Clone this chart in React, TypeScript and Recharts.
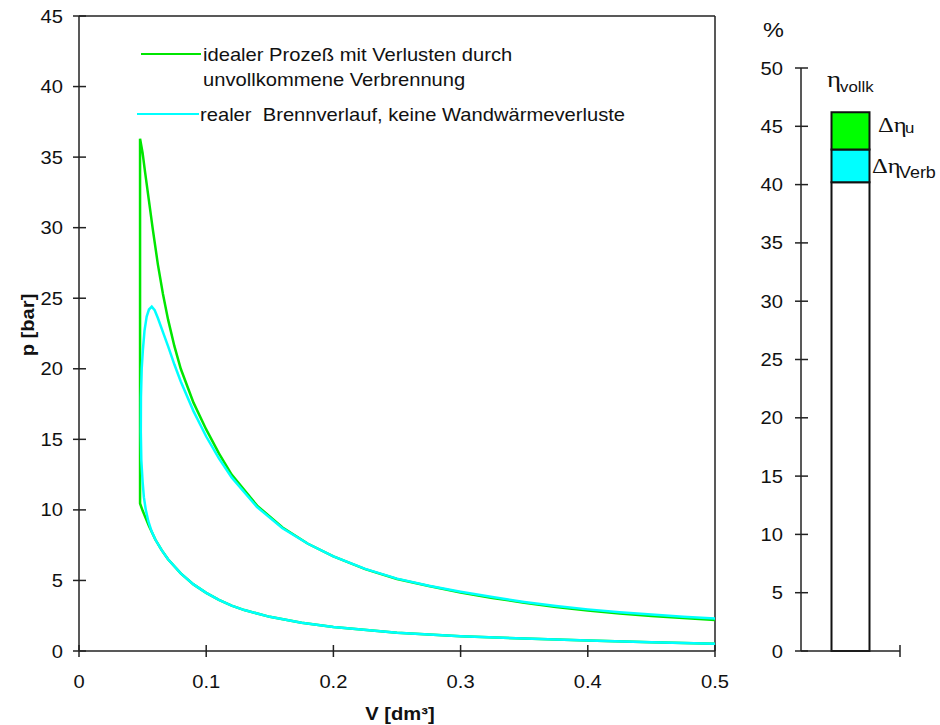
import React from "react";
import { LineChart, Line, XAxis, YAxis, ReferenceLine, BarChart, Bar } from "recharts";

// shared compression line, from V = 0.5 down to TDC
const compV = [0.5, 0.45, 0.4, 0.35, 0.3, 0.25, 0.2, 0.175, 0.15, 0.13, 0.12, 0.11, 0.1, 0.09, 0.08, 0.07, 0.065, 0.06, 0.055, 0.05, 0.048];
const compP = [0.52, 0.62, 0.75, 0.88, 1.05, 1.3, 1.7, 2.0, 2.42, 2.9, 3.22, 3.62, 4.12, 4.72, 5.5, 6.5, 7.15, 7.9, 8.85, 9.95, 10.45];

// ideal process: isochoric jump then expansion
const idealV = [0.048, 0.05, 0.052, 0.055, 0.058, 0.062, 0.066, 0.07, 0.075, 0.08, 0.09, 0.1, 0.11, 0.12, 0.14, 0.16, 0.18, 0.2, 0.225, 0.25, 0.275, 0.3, 0.325, 0.35, 0.375, 0.4, 0.425, 0.45, 0.475, 0.5];
const idealP = [36.3, 35.3, 33.9, 31.9, 29.9, 27.4, 25.3, 23.5, 21.6, 20.0, 17.6, 15.7, 14.0, 12.5, 10.3, 8.75, 7.6, 6.7, 5.8, 5.1, 4.6, 4.15, 3.76, 3.42, 3.12, 2.87, 2.66, 2.48, 2.33, 2.2];

// real combustion: leaves compression line at V = 0.06
const realV = [0.057, 0.0545, 0.0525, 0.051, 0.05, 0.049, 0.0486, 0.0487, 0.0493, 0.0502, 0.0515, 0.0532, 0.055, 0.0572, 0.0595, 0.062, 0.066, 0.07, 0.075, 0.08, 0.09, 0.1, 0.11, 0.12, 0.14, 0.16, 0.18, 0.2, 0.225, 0.25, 0.275, 0.3, 0.325, 0.35, 0.375, 0.4, 0.425, 0.45, 0.475, 0.5];
const realP = [8.5, 9.2, 10.0, 10.9, 12.0, 13.5, 15.5, 18.0, 20.0, 21.3, 22.7, 23.7, 24.2, 24.4, 24.15, 23.6, 22.6, 21.6, 20.3, 19.1, 17.0, 15.2, 13.65, 12.3, 10.2, 8.7, 7.6, 6.7, 5.82, 5.13, 4.63, 4.2, 3.82, 3.48, 3.19, 2.95, 2.75, 2.58, 2.43, 2.3];

const xTicks = [0, 0.1, 0.2, 0.3, 0.4, 0.5];
const yTicks = [0, 5, 10, 15, 20, 25, 30, 35, 40, 45];
const pctTicks = [0, 5, 10, 15, 20, 25, 30, 35, 40, 45, 50];

// efficiency bar: eta_vollk split into base, Delta eta_Verb, Delta eta_u
const etaBase = 40.2;
const dEtaVerb = 2.8;
const dEtaU = 3.2;

const GREEN = "#00e600";
const CYAN = "#00ffff";
const AXIS = "#222";
const FONT = "'Liberation Sans', Arial, sans-serif";
const SERIF = "'Liberation Serif', 'Times New Roman', serif";
const SX = 1.12;

const pts = (v: number[], p: number[]) => v.map((x, i) => ({ v: x, p: p[i] }));

const compression = pts(compV, compP);
const idealData = [...compression, ...pts(idealV, idealP)];
const realData = [...compression.filter((d) => d.v >= 0.06), ...pts(realV, realP)];
const barData = [{ x: 1, base: etaBase, verb: dEtaVerb, u: dEtaU }];

function Txt({ x, y, size = 18, anchor = "start", weight = "normal", family = FONT, children }: any) {
  return (
    <text
      transform={`translate(${x},${y}) scale(${SX},1)`}
      textAnchor={anchor}
      fontSize={size}
      fontWeight={weight}
      fontFamily={family}
      fill="#111"
    >
      {children}
    </text>
  );
}

function YTick(props: any) {
  const { x, y, payload, labelGap = 10 } = props;
  return (
    <g>
      <line x1={x} x2={x + 13} y1={y} y2={y} stroke={AXIS} strokeWidth={1.5} />
      <Txt x={x - labelGap} y={y + 6.5} anchor="end">{payload.value}</Txt>
    </g>
  );
}

function XTick(props: any) {
  const { x, y, payload, noLabel } = props;
  return (
    <g>
      <line x1={x} x2={x} y1={y - 12} y2={y} stroke={AXIS} strokeWidth={1.5} />
      {!noLabel && <Txt x={x} y={y + 31} anchor="middle">{payload.value}</Txt>}
    </g>
  );
}

function PVChart() {
  return (
    <LineChart width={760} height={725} margin={{ top: 16, right: 45, bottom: 44, left: 0 }}>
      <XAxis
        dataKey="v"
        type="number"
        domain={[0, 0.5]}
        ticks={xTicks}
        height={30}
        tickSize={6}
        tickMargin={0}
        tickLine={false}
        axisLine={{ stroke: AXIS, strokeWidth: 1.5 }}
        tick={<XTick />}
        allowDataOverflow
      />
      <YAxis
        type="number"
        domain={[0, 45]}
        ticks={yTicks}
        width={79}
        tickSize={6}
        tickMargin={0}
        tickLine={false}
        axisLine={{ stroke: AXIS, strokeWidth: 1.5 }}
        tick={<YTick />}
        allowDataOverflow
      />
      <ReferenceLine y={45} stroke={AXIS} strokeWidth={1.5} />
      <ReferenceLine x={0.5} stroke={AXIS} strokeWidth={1.5} />
      <Line data={idealData} dataKey="p" type="linear" stroke={GREEN} strokeWidth={2.5} dot={false} isAnimationActive={false} />
      <Line data={realData} dataKey="p" type="linear" stroke={CYAN} strokeWidth={2.5} dot={false} isAnimationActive={false} />
    </LineChart>
  );
}

function EtaChart() {
  return (
    <BarChart width={200} height={725} data={barData} margin={{ top: 68, right: 40, bottom: 44, left: 0 }}>
      <XAxis
        dataKey="x"
        type="number"
        domain={[0, 2]}
        ticks={[2]}
        height={30}
        tickSize={6}
        tickMargin={0}
        tickLine={false}
        axisLine={{ stroke: AXIS, strokeWidth: 1.5 }}
        tick={<XTick noLabel />}
      />
      <YAxis
        type="number"
        domain={[0, 50]}
        ticks={pctTicks}
        width={61}
        tickSize={6}
        tickMargin={0}
        tickLine={false}
        axisLine={{ stroke: AXIS, strokeWidth: 1.5 }}
        tick={<YTick labelGap={12} />}
      />
      <Bar dataKey="base" stackId="eta" fill="#fff" stroke="#111" strokeWidth={2} barSize={38} isAnimationActive={false} />
      <Bar dataKey="verb" stackId="eta" fill={CYAN} stroke="#111" strokeWidth={2} barSize={38} isAnimationActive={false} />
      <Bar dataKey="u" stackId="eta" fill="#00ff00" stroke="#111" strokeWidth={2} barSize={38} isAnimationActive={false} />
    </BarChart>
  );
}

export default function App() {
  return (
    <div style={{ position: "fixed", left: 0, top: 0, width: 940, height: 725, background: "#fff" }}>
      <div style={{ position: "absolute", left: 0, top: 0 }}>
        <PVChart />
      </div>
      <div style={{ position: "absolute", left: 740, top: 0 }}>
        <EtaChart />
      </div>
      <svg width={940} height={725} style={{ position: "absolute", left: 0, top: 0, pointerEvents: "none" }}>
        {/* legend */}
        <line x1={141} x2={201} y1={54} y2={54} stroke={GREEN} strokeWidth={2} />
        <Txt x={203} y={61}>idealer Prozeß mit Verlusten durch</Txt>
        <Txt x={203} y={86}>unvollkommene Verbrennung</Txt>
        <line x1={137} x2={199} y1={114} y2={114} stroke={CYAN} strokeWidth={2} />
        <Txt x={200} y={121}>{"realer\u00a0 Brennverlauf, keine Wandwärmeverluste"}</Txt>

        {/* axis titles */}
        <g transform="translate(34,325) rotate(-90)">
          <Txt x={0} y={0} anchor="middle" weight="bold">p [bar]</Txt>
        </g>
        <Txt x={400} y={720} anchor="middle" weight="bold">V [dm³]</Txt>

        {/* efficiency labels */}
        <Txt x={763} y={37} size={21}>%</Txt>
        <Txt x={827} y={87} size={24} family={SERIF}>η</Txt>
        <Txt x={840} y={92} size={15}>vollk</Txt>
        <Txt x={878} y={132} size={22} family={SERIF}>Δη</Txt>
        <Txt x={905} y={133} size={15}>u</Txt>
        <Txt x={872} y={173} size={22} family={SERIF}>Δη</Txt>
        <Txt x={899} y={178} size={16}>Verb</Txt>
      </svg>
    </div>
  );
}
